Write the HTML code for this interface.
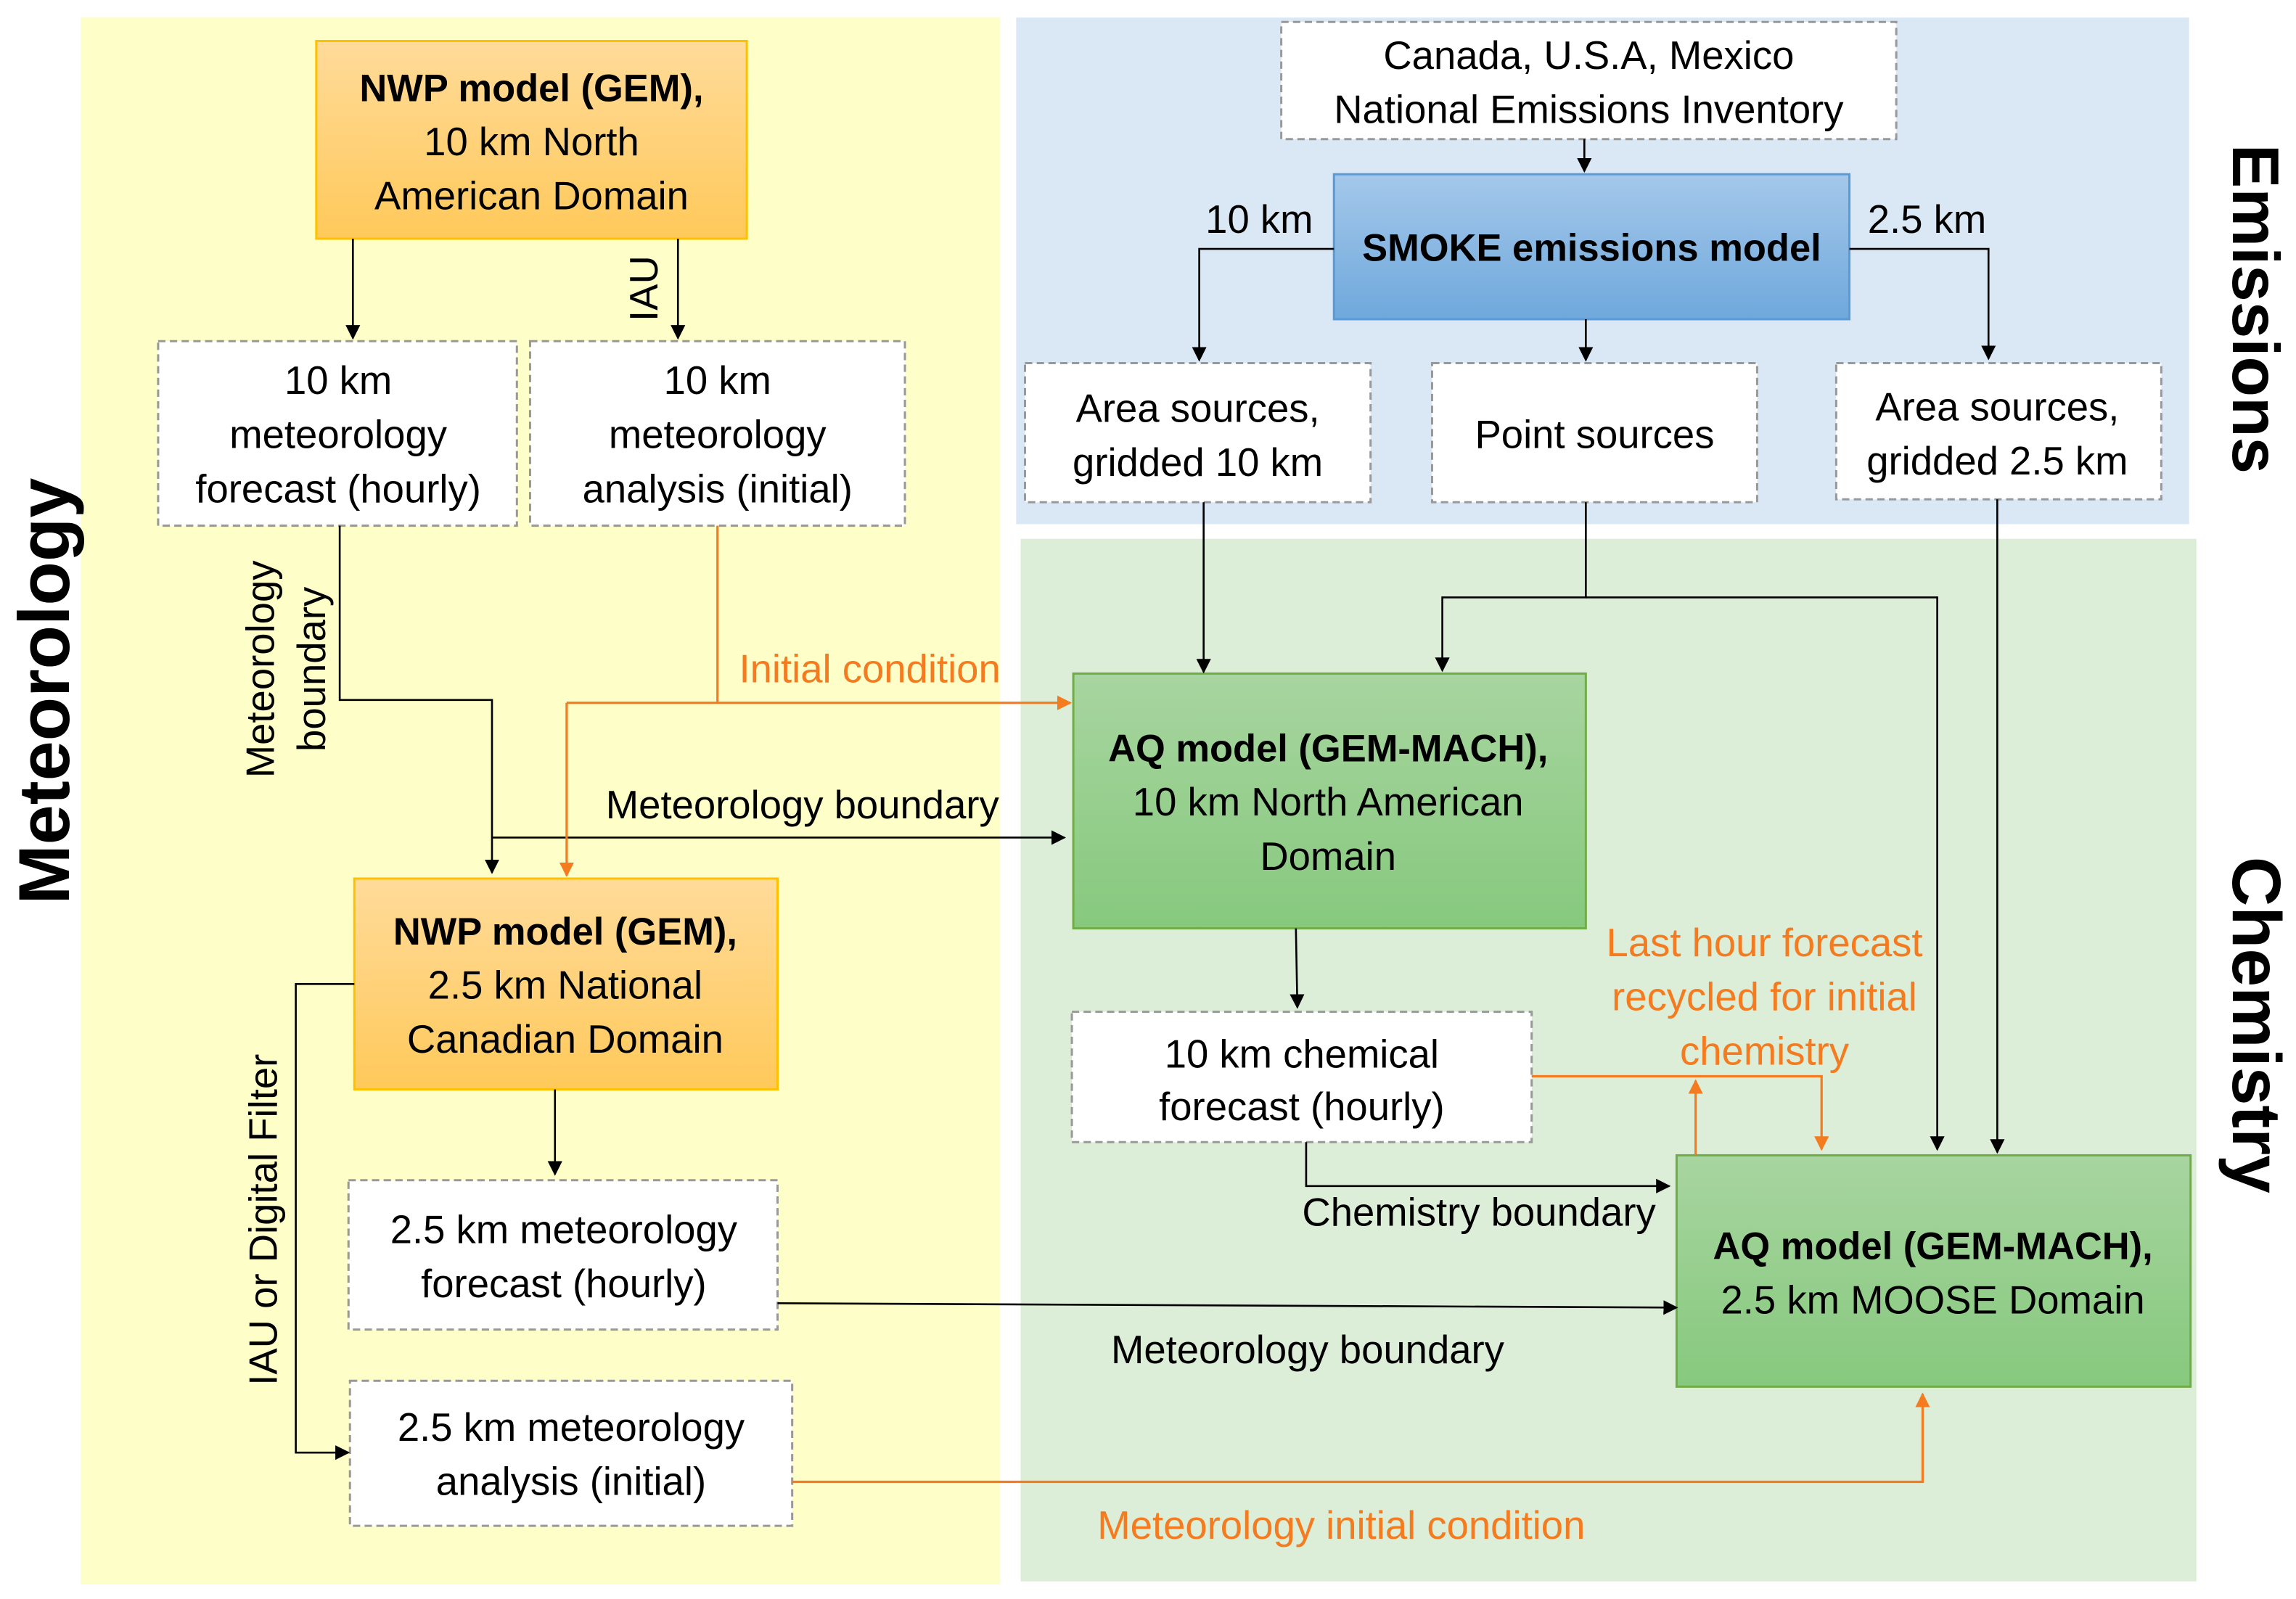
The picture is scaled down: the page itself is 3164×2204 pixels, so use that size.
<!DOCTYPE html>
<html><head><meta charset="utf-8"><style>html,body{margin:0;padding:0;background:#fff}svg{display:block}</style></head>
<body>
<svg width="3164" height="2204" viewBox="0 0 1568 1092" preserveAspectRatio="none" xmlns="http://www.w3.org/2000/svg" font-family="Liberation Sans, sans-serif">
<defs>
<linearGradient id="go" x1="0" y1="0" x2="0" y2="1"><stop offset="0" stop-color="#FFDB9A"/><stop offset="1" stop-color="#FFC95A"/></linearGradient>
<linearGradient id="gb" x1="0" y1="0" x2="0" y2="1"><stop offset="0" stop-color="#A4C8EA"/><stop offset="1" stop-color="#6FA8DC"/></linearGradient>
<linearGradient id="gg" x1="0" y1="0" x2="0" y2="1"><stop offset="0" stop-color="#A8D5A0"/><stop offset="1" stop-color="#86C97D"/></linearGradient>
<marker id="ab" markerWidth="10" markerHeight="10" refX="9" refY="5" orient="auto" markerUnits="userSpaceOnUse"><path d="M0,0 L10,5 L0,10 z" fill="#000"/></marker>
<marker id="ao" markerWidth="10" markerHeight="10" refX="9" refY="5" orient="auto" markerUnits="userSpaceOnUse"><path d="M0,0 L10,5 L0,10 z" fill="#F47B20"/></marker>
</defs>
<rect x="55" y="12" width="628" height="1070" fill="#FEFEC8"/>
<rect x="694" y="12" width="801" height="346" fill="#DAE8F5"/>
<rect x="697" y="368" width="803" height="712" fill="#DCEED8"/>

<g stroke="#999" stroke-width="1.5" stroke-dasharray="5,3" fill="#fff">
<rect x="108" y="233" width="245" height="126"/>
<rect x="362" y="233" width="256" height="126"/>
<rect x="875" y="15" width="420" height="80"/>
<rect x="700" y="248" width="236" height="95"/>
<rect x="978" y="248" width="222" height="95"/>
<rect x="1254" y="248" width="222" height="93"/>
<rect x="732" y="691" width="314" height="89"/>
<rect x="238" y="806" width="293" height="102"/>
<rect x="239" y="943" width="302" height="99"/>
</g>
<rect x="216" y="28" width="294" height="135" fill="url(#go)" stroke="#FFC000" stroke-width="1.5"/>
<rect x="242" y="600" width="289" height="144" fill="url(#go)" stroke="#FFC000" stroke-width="1.5"/>
<rect x="911" y="119" width="352" height="99" fill="url(#gb)" stroke="#5B9BD5" stroke-width="1.5"/>
<rect x="733" y="460" width="350" height="174" fill="url(#gg)" stroke="#70AD47" stroke-width="1.5"/>
<rect x="1145" y="789" width="351" height="158" fill="url(#gg)" stroke="#70AD47" stroke-width="1.5"/>

<g fill="none" stroke="#000" stroke-width="1.3">
<path d="M241 163 V231" marker-end="url(#ab)"/>
<path d="M463 163 V231" marker-end="url(#ab)"/>
<path d="M232 359 V478 H336 V596" marker-end="url(#ab)"/>
<path d="M336 572 H727" marker-end="url(#ab)"/>
<path d="M1082 95 V117" marker-end="url(#ab)"/>
<path d="M911 170 H819 V246" marker-end="url(#ab)"/>
<path d="M1083 218 V246" marker-end="url(#ab)"/>
<path d="M1263 170 H1358 V245" marker-end="url(#ab)"/>
<path d="M822 343 V459" marker-end="url(#ab)"/>
<path d="M1083 343 V408 H985 V458" marker-end="url(#ab)"/>
<path d="M1083 408 H1323 V785" marker-end="url(#ab)"/>
<path d="M1364 341 V787" marker-end="url(#ab)"/>
<path d="M885 634 L886 688" marker-end="url(#ab)"/>
<path d="M892 780 V810 H1140" marker-end="url(#ab)"/>
<path d="M531 890 L1145 893" marker-end="url(#ab)"/>
<path d="M242 672 H202 V992 H238" marker-end="url(#ab)"/>
<path d="M379 744 V802" marker-end="url(#ab)"/>
</g>
<g fill="none" stroke="#F47B20" stroke-width="1.6">
<path d="M490 359 V480"/>
<path d="M387 480 H731" marker-end="url(#ao)"/>
<path d="M387 480 V598" marker-end="url(#ao)"/>
<path d="M1046 735 H1244 V785" marker-end="url(#ao)"/>
<path d="M1158 789 V738" marker-end="url(#ao)"/>
<path d="M541 1012 H1313 V952" marker-end="url(#ao)"/>
</g>

<g font-size="27" text-anchor="middle" fill="#000">
<text x="363" y="69" font-weight="bold" font-size="26">NWP model (GEM),</text>
<text x="363" y="106">10 km North</text>
<text x="363" y="143">American Domain</text>
<text x="231" y="269">10 km</text>
<text x="231" y="306">meteorology</text>
<text x="231" y="343">forecast (hourly)</text>
<text x="490" y="269">10 km</text>
<text x="490" y="306">meteorology</text>
<text x="490" y="343">analysis (initial)</text>
<text x="1085" y="47">Canada, U.S.A, Mexico</text>
<text x="1085" y="84">National Emissions Inventory</text>
<text x="1087" y="178" font-weight="bold" font-size="26">SMOKE emissions model</text>
<text x="818" y="288">Area sources,</text>
<text x="818" y="325">gridded 10 km</text>
<text x="1089" y="306">Point sources</text>
<text x="1364" y="287">Area sources,</text>
<text x="1364" y="324">gridded 2.5 km</text>
<text x="907" y="520" font-weight="bold" font-size="26">AQ model (GEM-MACH),</text>
<text x="907" y="557">10 km North American</text>
<text x="907" y="594">Domain</text>
<text x="386" y="645" font-weight="bold" font-size="26">NWP model (GEM),</text>
<text x="386" y="682">2.5 km National</text>
<text x="386" y="719">Canadian Domain</text>
<text x="889" y="729">10 km chemical</text>
<text x="889" y="765">forecast (hourly)</text>
<text x="385" y="849">2.5 km meteorology</text>
<text x="385" y="886">forecast (hourly)</text>
<text x="390" y="984">2.5 km meteorology</text>
<text x="390" y="1021">analysis (initial)</text>
<text x="1320" y="860" font-weight="bold" font-size="26">AQ model (GEM-MACH),</text>
<text x="1320" y="897">2.5 km MOOSE Domain</text>
<text x="860" y="159">10 km</text>
<text x="1316" y="159">2.5 km</text>
<text x="548" y="559">Meteorology boundary</text>
<text x="1010" y="837">Chemistry boundary</text>
<text x="893" y="931">Meteorology boundary</text>
<g fill="#F47B20">
<text x="594" y="466">Initial condition</text>
<text x="1205" y="653">Last hour forecast</text>
<text x="1205" y="690">recycled for initial</text>
<text x="1205" y="727">chemistry</text>
<text x="916" y="1051">Meteorology initial condition</text>
</g>
<text transform="translate(449,197) rotate(-90)">IAU</text>
<text transform="translate(187,457) rotate(-90)">Meteorology</text>
<text transform="translate(222,457) rotate(-90)">boundary</text>
<text transform="translate(189,833) rotate(-90)">IAU or Digital Filter</text>
</g>
<g font-weight="bold" text-anchor="middle" fill="#000">
<text transform="translate(47,472) rotate(-90)" font-size="49">Meteorology</text>
<text transform="translate(1525,211) rotate(90)" font-size="45">Emissions</text>
<text transform="translate(1525,700) rotate(90)" font-size="47">Chemistry</text>
</g>
</svg>
</body></html>
